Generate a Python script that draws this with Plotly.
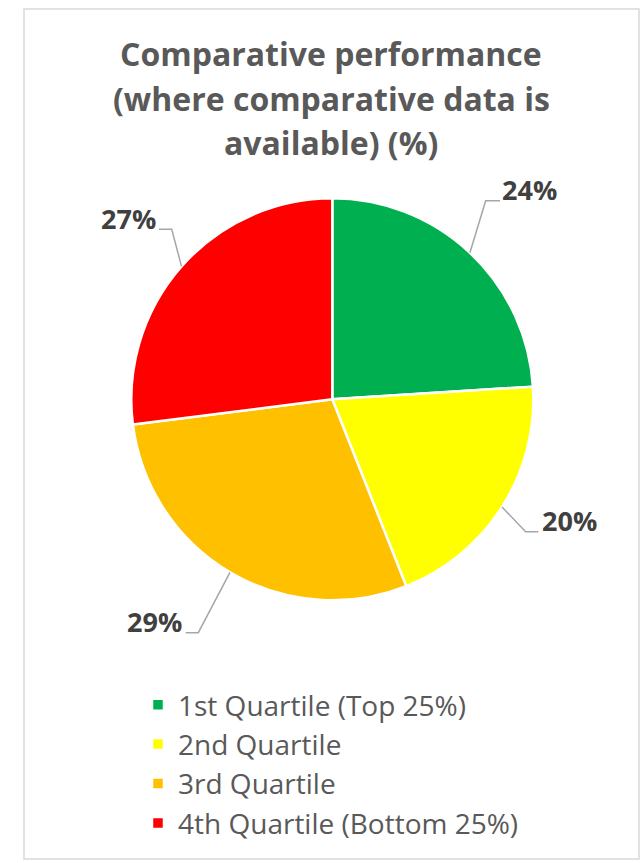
import math
import plotly.graph_objects as go

# Data
categories = ["1st Quartile (Top 25%)", "2nd Quartile", "3rd Quartile", "4th Quartile (Bottom 25%)"]
shares = [24, 20, 29, 27]
slice_colors = ["#00B050", "#FFFF00", "#FFC000", "#FF0000"]
title_lines = ["Comparative performance", "(where comparative data is", "available) (%)"]

# Canvas geometry (pixels)
W, H = 641, 863
CX, CY, R = 332.3, 399.3, 201.0

# Per-label leader elbow and text anchor (pixels); the leader starts on the slice edge
label_layout = [
    dict(elbow=(485.7, 200.7), end=(500.0, 200.7), text=(500.0, 189.5), anchor="left"),
    dict(elbow=(525.7, 531.7), end=(538.3, 531.7), text=(540.0, 520.5), anchor="left"),
    dict(elbow=(198.3, 632.7), end=(185.7, 632.7), text=(184.0, 621.5), anchor="right"),
    dict(elbow=(171.7, 229.3), end=(159.0, 229.3), text=(158.0, 218.0), anchor="right"),
]


def px(x):
    return x / W


def py(y):
    return (H - y) / H


fig = go.Figure(
    go.Pie(
        labels=categories,
        values=shares,
        sort=False,
        direction="clockwise",
        rotation=0,
        marker=dict(colors=slice_colors, line=dict(color="white", width=2.5)),
        textinfo="none",
        hoverinfo="label+percent",
        domain=dict(x=[px(CX - R), px(CX + R)], y=[py(CY + R), py(CY - R)]),
    )
)

shapes = [
    dict(type="rect", xref="paper", yref="paper",
         x0=px(24), x1=px(639), y0=py(859), y1=py(9),
         line=dict(color="#D9D9D9", width=1.5), layer="below"),
]
annotations = []

total = sum(shares)
cum = 0.0
for val, lay in zip(shares, label_layout):
    mid = (cum + val / 2) / total * 2 * math.pi
    cum += val
    sx = CX + R * math.sin(mid)
    sy = CY - R * math.cos(mid)
    ex, ey = lay["elbow"]
    tx, ty = lay["end"]
    shapes.append(dict(
        type="path", xref="paper", yref="paper",
        path=f"M {px(sx)},{py(sy)} L {px(ex)},{py(ey)} L {px(tx)},{py(ty)}",
        line=dict(color="#A6A6A6", width=1.5),
    ))
    lx, ly = lay["text"]
    annotations.append(dict(
        x=px(lx), y=py(ly), xref="paper", yref="paper",
        xanchor=lay["anchor"], yanchor="middle", showarrow=False,
        text=f"<b>{round(val / total * 100)}%</b>",
        font=dict(family="Open Sans", size=27, color="#404040"),
    ))

# Title, one annotation per line for exact line spacing
for i, line in enumerate(title_lines):
    annotations.append(dict(
        x=px(331.5), y=py(53 + 45 * i), xref="paper", yref="paper",
        xanchor="center", yanchor="middle", showarrow=False,
        text=f"<b>{line}</b>",
        font=dict(family="Open Sans", size=32, color="#595959"),
    ))

fig.update_layout(
    width=W, height=H, autosize=False,
    margin=dict(l=0, r=0, t=0, b=0),
    paper_bgcolor="white", plot_bgcolor="white",
    shapes=shapes, annotations=annotations,
    showlegend=True,
    legend=dict(
        x=px(138), y=py(680), xanchor="left", yanchor="top",
        font=dict(family="Open Sans", size=28, color="#595959"),
        bgcolor="rgba(0,0,0,0)", traceorder="normal",
    ),
)

fig.write_html("out.html")
